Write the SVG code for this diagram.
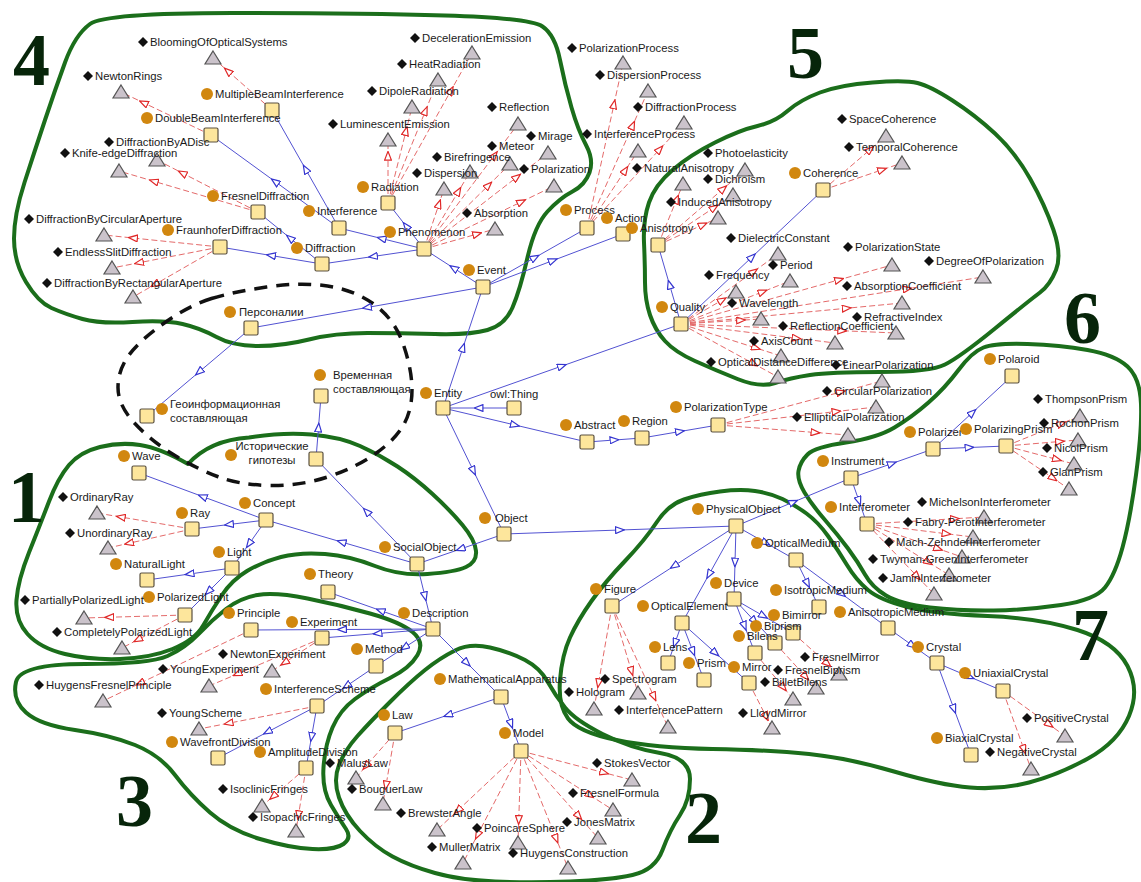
<svg xmlns="http://www.w3.org/2000/svg" xmlns:xlink="http://www.w3.org/1999/xlink" width="1141" height="882" viewBox="0 0 1141 882">
<style>
.blob{fill:none;stroke:#1b6e1b;stroke-width:4;stroke-linejoin:round}
.dash{fill:none;stroke:#111;stroke-width:3.5;stroke-dasharray:13 9}
.b{fill:none;stroke:#5252d2;stroke-width:1;marker-mid:url(#ab)}
.r{fill:none;stroke:#e46a6a;stroke-width:1;stroke-dasharray:6 3;marker-mid:url(#ar)}
.c{fill:#d1870f}
.s{fill:#fde69c;stroke:#5a5040;stroke-width:1.2}
.d{fill:#111}
.t{fill:#cbc3cb;stroke:#555;stroke-width:1.2}
text{font-family:"Liberation Sans",Arial,sans-serif;font-size:11.3px;fill:#1a1a1a}
.num{font-family:"Liberation Serif","Times New Roman",serif;font-weight:bold;font-size:74px;fill:#07250a}
</style>
<defs>
<marker id="ab" viewBox="0 0 10 8" refX="5" refY="4" markerWidth="10" markerHeight="8" markerUnits="userSpaceOnUse" orient="auto"><path d="M0.6,0.6 L9.4,4 L0.6,7.4 Z" fill="#fff" stroke="#3535d0" stroke-width="1.2" stroke-dasharray="none"/></marker>
<marker id="ar" viewBox="0 0 10 8" refX="5" refY="4" markerWidth="10" markerHeight="8" markerUnits="userSpaceOnUse" orient="auto"><path d="M0.6,0.6 L9.4,4 L0.6,7.4 Z" fill="#fff" stroke="#e02828" stroke-width="1.2" stroke-dasharray="none"/></marker>
<circle id="cir" class="c" r="6"/>
<rect id="sq" class="s" x="-7" y="-7" width="14" height="14" rx="1.5"/>
<polygon id="dia" class="d" points="0,-5 5,0 0,5 -5,0"/>
<polygon id="tri" class="t" points="0,-7 8,6 -8,6"/>
</defs>
<rect width="1141" height="882" fill="#fff"/>

<g id="regions">
<path class="blob" d="M51.5,308 Q38,302 26,282 Q14,262 14,238.5 Q14,215 24.5,182.5 Q35,150 45,120 Q55,90 65,62.5 Q75,35 90,24 Q105,13 232.5,13 Q360,13 445,15.5 Q530,18 542.5,26.5 Q555,35 560,60 Q565,85 571.5,107.5 Q578,130 586,145 Q594,160 589.5,172.5 Q585,185 572.5,191.5 Q560,198 547.5,211.5 Q535,225 527.5,257.5 Q520,290 512.5,307.5 Q505,325 487.5,330 Q470,335 435,334 Q400,333 367.5,333 Q335,333 309,339.5 Q283,346 258,346 Q233,346 216.5,337 Q200,328 182.5,324 Q165,320 132.5,322 Q100,324 82.5,319 Q65,314 51.5,308 Z"/>
<path class="blob" d="M645,282.5 Q645,265 644,242.5 Q643,220 649,202.5 Q655,185 672.5,170 Q690,155 715,142.5 Q740,130 757.5,126 Q775,122 787.5,111 Q800,100 820,92.5 Q840,85 872.5,82.5 Q905,80 917.5,83 Q930,86 952.5,100.5 Q975,115 995,133.5 Q1015,152 1030,178.5 Q1045,205 1053.5,230 Q1062,255 1056,270 Q1050,285 1040,292.5 Q1030,300 995,328.5 Q960,357 945,364.5 Q930,372 880,372 Q830,372 810,375 Q790,378 775,383 Q760,388 737.5,379 Q715,370 695,361 Q675,352 665,341 Q655,330 650,315 Q645,300 645,282.5 Z"/>
<path class="blob" d="M798.5,471 Q800,462 807.5,454.5 Q815,447 846,442.5 Q877,438 894.5,427.5 Q912,417 928.5,402.5 Q945,388 958.5,370 Q972,352 983.5,347.5 Q995,343 1027.5,344 Q1060,345 1087.5,350 Q1115,355 1127.5,366.5 Q1140,378 1141,404 Q1142,430 1136,475 Q1130,520 1122.5,547.5 Q1115,575 1105,587.5 Q1095,600 1061,605 Q1027,610 993.5,610.5 Q960,611 930,607.5 Q900,604 886,595.5 Q872,587 865,574.5 Q858,562 848,548.5 Q838,535 825,520 Q812,505 804.5,492.5 Q797,480 798.5,471 Z"/>
<path class="blob" d="M625,561 Q645,540 656.5,522.5 Q668,505 684,499.5 Q700,494 720,491.5 Q740,489 755,491 Q770,493 782.5,499 Q795,505 806.5,513.5 Q818,522 828,536 Q838,550 847,565 Q856,580 868,590 Q880,600 907.5,607 Q935,614 987.5,616 Q1040,618 1077.5,630 Q1115,642 1127.5,666 Q1140,690 1129,716 Q1118,742 1088,758.5 Q1058,775 1029,782.5 Q1000,790 970,787.5 Q940,785 894,771.5 Q848,758 809,754 Q770,750 712.5,749 Q655,748 616.5,740 Q578,732 568,718.5 Q558,705 560,680 Q562,655 570,637.5 Q578,620 591.5,601 Q605,582 625,561 Z"/>
<path class="blob" d="M455,650.5 Q470,643 490,647.5 Q510,652 525,660 Q540,668 547.5,681.5 Q555,695 565,707.5 Q575,720 602.5,734 Q630,748 660,753 Q690,758 690,779 Q690,800 680,815 Q670,830 662.5,850 Q655,870 632.5,875 Q610,880 570,881.5 Q530,883 495,881.5 Q460,880 435,873 Q410,866 392.5,856.5 Q375,847 360,831 Q345,815 339,797.5 Q333,780 339,765 Q345,750 357.5,736 Q370,722 390,702 Q410,682 425,670 Q440,658 455,650.5 Z"/>
<path class="blob" d="M16,682 Q20,664 85,664 Q150,664 167.5,656 Q185,648 198.5,634 Q212,620 226,609 Q240,598 257.5,595 Q275,592 307.5,598.5 Q340,605 370,613.5 Q400,622 412.5,632 Q425,642 417.5,655 Q410,668 390,678 Q370,688 355,699 Q340,710 332.5,727.5 Q325,745 323.5,767.5 Q322,790 331,805 Q340,820 346,829 Q352,838 343.5,844 Q335,850 312.5,849 Q290,848 260,839 Q230,830 210,812.5 Q190,795 175,775 Q160,755 135,745 Q110,735 75,730 Q40,725 26,712.5 Q12,700 16,682 Z"/>
<path class="blob" d="M249,437.5 Q283,432 311.5,434.5 Q340,437 360,446 Q380,455 397.5,466.5 Q415,478 432.5,494 Q450,510 462.5,525 Q475,540 476,551 Q477,562 466,567 Q455,572 427.5,574 Q400,576 375,566 Q350,556 325,554 Q300,552 281,557 Q262,562 247,571 Q232,580 222,595 Q212,610 203.5,625 Q195,640 172.5,649 Q150,658 120,659 Q90,660 65,654 Q40,648 27.5,634 Q15,620 16.5,600 Q18,580 29,552.5 Q40,525 49,501.5 Q58,478 69,465 Q80,452 100,447 Q120,442 140,445 Q160,448 188,464 Q210,440 249,437.5 Z"/>
<path class="dash" d="M211.5,298.5 Q233,292 266.5,287 Q300,282 327.5,286 Q355,290 375,305 Q395,320 403.5,345 Q412,370 412,390 Q412,410 403.5,425 Q395,440 375,454 Q355,468 327.5,477 Q300,486 270,485.5 Q240,485 217.5,476.5 Q195,468 172.5,454 Q150,440 134,422.5 Q118,405 118,387.5 Q118,370 129,355 Q140,340 165,322.5 Q190,305 211.5,298.5 Z"/>
<text class="num" x="13" y="85">4</text>
<text class="num" x="787" y="78">5</text>
<text class="num" x="1064" y="343">6</text>
<text class="num" x="8" y="522">1</text>
<text class="num" x="116" y="826">3</text>
<text class="num" x="685" y="843">2</text>
<text class="num" x="1072" y="660">7</text>
</g>

<g id="connectors">
<path class="b" d="M339,228 L275,181.5 L211,135"/>
<path class="b" d="M339,228 L305.5,169 L272,110"/>
<path class="b" d="M322,264 L290,238 L258,212"/>
<path class="b" d="M322,264 L271,255.5 L220,247"/>
<path class="b" d="M424,249 L373,256.5 L322,264"/>
<path class="b" d="M424,249 L381.5,238.5 L339,228"/>
<path class="b" d="M424,249 L406,226 L388,203"/>
<path class="b" d="M483,287 L453.5,268 L424,249"/>
<path class="b" d="M483,287 L535,257.5 L587,228"/>
<path class="b" d="M483,287 L553,260.5 L623,234"/>
<path class="b" d="M483,287 L367,307.5 L251,328"/>
<path class="b" d="M251,328 L199,372 L147,416"/>
<path class="b" d="M443,408 L463,347.5 L483,287"/>
<path class="b" d="M514,408 L478.5,408 L443,408"/>
<path class="b" d="M443,408 L562,366 L681,324"/>
<path class="b" d="M443,408 L515,425 L587,442"/>
<path class="b" d="M587,442 L614.5,440 L642,438"/>
<path class="b" d="M642,438 L680,431.5 L718,425"/>
<path class="b" d="M443,408 L473.5,471 L504,534"/>
<path class="b" d="M504,534 L460.5,549 L417,564"/>
<path class="b" d="M504,534 L620,530 L736,526"/>
<path class="b" d="M681,324 L752,257 L823,190"/>
<path class="b" d="M681,324 L669.5,284.5 L658,245"/>
<path class="b" d="M417,564 L341.5,542 L266,520"/>
<path class="b" d="M266,520 L202.5,496.5 L139,473"/>
<path class="b" d="M266,520 L229,524.5 L192,529"/>
<path class="b" d="M266,520 L249,544 L232,568"/>
<path class="b" d="M232,568 L189.5,574 L147,580"/>
<path class="b" d="M232,568 L208.5,591.5 L185,615"/>
<path class="b" d="M417,564 L425,596.5 L433,629"/>
<path class="b" d="M417,564 L366.5,511.5 L316,459"/>
<path class="b" d="M316,459 L318.5,427.5 L321,396"/>
<path class="b" d="M433,629 L342,629.5 L251,630"/>
<path class="b" d="M433,629 L377.5,633.5 L322,638"/>
<path class="b" d="M433,629 L404.5,647.5 L376,666"/>
<path class="b" d="M433,629 L380.5,610.5 L328,592"/>
<path class="b" d="M433,629 L467,663 L501,697"/>
<path class="b" d="M376,666 L346.5,686 L317,706"/>
<path class="b" d="M317,706 L267.5,732 L218,758"/>
<path class="b" d="M317,706 L311.5,737 L306,768"/>
<path class="b" d="M501,697 L448,715 L395,733"/>
<path class="b" d="M501,697 L511,724 L521,751"/>
<path class="b" d="M736,526 L674,566 L612,606"/>
<path class="b" d="M736,526 L709,574.5 L682,623"/>
<path class="b" d="M736,526 L735,562.5 L734,599"/>
<path class="b" d="M736,526 L766,543 L796,560"/>
<path class="b" d="M736,526 L793.5,502 L851,478"/>
<path class="b" d="M796,560 L807.5,583.5 L819,607"/>
<path class="b" d="M796,560 L842,594 L888,628"/>
<path class="b" d="M888,628 L912.5,645.5 L937,663"/>
<path class="b" d="M937,663 L970,677 L1003,691"/>
<path class="b" d="M937,663 L954,709 L971,755"/>
<path class="b" d="M682,623 L675,643 L668,663"/>
<path class="b" d="M682,623 L693,651.5 L704,680"/>
<path class="b" d="M682,623 L715.5,653 L749,683"/>
<path class="b" d="M734,599 L763.5,616 L793,633"/>
<path class="b" d="M734,599 L754.5,621 L775,643"/>
<path class="b" d="M734,599 L744.5,626 L755,653"/>
<path class="b" d="M851,478 L892,463.5 L933,449"/>
<path class="b" d="M851,478 L859,501 L867,524"/>
<path class="b" d="M933,449 L972.5,412.5 L1012,376"/>
<path class="b" d="M933,449 L969.5,447.5 L1006,446"/>

<path class="r" d="M272,110 L227.75,71 L213,58"/>
<path class="r" d="M211,135 L143.5,102.75 L121,92"/>
<path class="r" d="M258,212 L182.25,173 L157,160"/>
<path class="r" d="M258,212 L153.75,181.25 L119,171"/>
<path class="r" d="M220,247 L133,238 L104,235"/>
<path class="r" d="M220,247 L139,262.75 L112,268"/>
<path class="r" d="M220,247 L154.75,284.5 L133,297"/>
<path class="r" d="M388,203 L451,90.5 L472,53"/>
<path class="r" d="M388,203 L425.5,110.75 L438,80"/>
<path class="r" d="M388,203 L406,131 L412,107"/>
<path class="r" d="M388,203 L388,155.75 L388,140"/>
<path class="r" d="M424,249 L494.5,155.25 L518,124"/>
<path class="r" d="M424,249 L517,177 L548,153"/>
<path class="r" d="M424,249 L488.5,185.25 L510,164"/>
<path class="r" d="M424,249 L458.5,191.25 L470,172"/>
<path class="r" d="M424,249 L439,204 L444,189"/>
<path class="r" d="M424,249 L521.5,201.75 L554,186"/>
<path class="r" d="M424,249 L477.25,234 L495,229"/>
<path class="r" d="M587,228 L614,104.25 L623,63"/>
<path class="r" d="M587,228 L632.75,125.25 L648,91"/>
<path class="r" d="M587,228 L659.75,149.25 L684,123"/>
<path class="r" d="M587,228 L625.25,170.25 L638,151"/>
<path class="r" d="M658,245 L676.75,199.25 L683,184"/>
<path class="r" d="M658,245 L723.25,188.75 L745,170"/>
<path class="r" d="M658,245 L714.25,207.5 L733,195"/>
<path class="r" d="M658,245 L703,224.75 L718,218"/>
<path class="r" d="M823,190 L870.25,149.5 L886,136"/>
<path class="r" d="M823,190 L882.25,169.75 L902,163"/>
<path class="r" d="M681,324 L753.75,271.5 L778,254"/>
<path class="r" d="M681,324 L722.25,300 L736,292"/>
<path class="r" d="M681,324 L762.75,291.75 L790,281"/>
<path class="r" d="M681,324 L741,320.25 L761,319"/>
<path class="r" d="M681,324 L839.25,279.75 L892,265"/>
<path class="r" d="M681,324 L846.75,308.25 L902,303"/>
<path class="r" d="M681,324 L907.5,288.75 L983,277"/>
<path class="r" d="M681,324 L842.25,330.75 L896,333"/>
<path class="r" d="M681,324 L796.5,338.25 L835,343"/>
<path class="r" d="M681,324 L756,348 L781,356"/>
<path class="r" d="M681,324 L753.75,363.75 L778,377"/>
<path class="r" d="M718,425 L841,392 L882,381"/>
<path class="r" d="M718,425 L836.5,411.5 L876,407"/>
<path class="r" d="M718,425 L815.5,432.5 L848,435"/>
<path class="r" d="M1006,446 L1061.5,423.5 L1080,416"/>
<path class="r" d="M1006,446 L1060,441.5 L1078,440"/>
<path class="r" d="M1006,446 L1057,459.5 L1074,464"/>
<path class="r" d="M1006,446 L1053.25,478.25 L1069,489"/>
<path class="r" d="M867,524 L954.75,518.75 L984,517"/>
<path class="r" d="M867,524 L946.5,533.75 L973,537"/>
<path class="r" d="M867,524 L938.25,548.75 L962,557"/>
<path class="r" d="M867,524 L928.5,562.25 L949,575"/>
<path class="r" d="M867,524 L917.25,576.5 L934,594"/>
<path class="r" d="M192,529 L120.75,517 L97,513"/>
<path class="r" d="M192,529 L129,543.25 L108,548"/>
<path class="r" d="M185,615 L109.25,617.25 L84,618"/>
<path class="r" d="M185,615 L137.75,639.75 L122,648"/>
<path class="r" d="M322,638 L284.5,662.75 L272,671"/>
<path class="r" d="M322,638 L237.25,674 L209,686"/>
<path class="r" d="M251,630 L140,683.25 L103,701"/>
<path class="r" d="M317,706 L228.5,723.25 L199,729"/>
<path class="r" d="M306,768 L273,796.5 L262,806"/>
<path class="r" d="M306,768 L298.5,815.25 L296,831"/>
<path class="r" d="M395,733 L366,766 L356,778"/>
<path class="r" d="M395,733 L386,785.5 L383,803"/>
<path class="r" d="M521,751 L604.25,772.75 L632,780"/>
<path class="r" d="M521,751 L590,795.25 L613,810"/>
<path class="r" d="M521,751 L458,810.25 L437,830"/>
<path class="r" d="M521,751 L578.75,816.25 L598,838"/>
<path class="r" d="M521,751 L518.75,820 L518,843"/>
<path class="r" d="M521,751 L477.5,835 L463,863"/>
<path class="r" d="M521,751 L556.25,838.75 L568,868"/>
<path class="r" d="M612,606 L598.5,683.25 L594,709"/>
<path class="r" d="M612,606 L631.5,671.25 L638,693"/>
<path class="r" d="M612,606 L654,696.75 L668,727"/>
<path class="r" d="M749,683 L766.25,716.75 L772,728"/>
<path class="r" d="M793,633 L827.5,663.75 L839,674"/>
<path class="r" d="M775,643 L805.75,676.75 L816,688"/>
<path class="r" d="M755,653 L783.5,687.5 L793,699"/>
<path class="r" d="M1003,691 L1049.5,724.75 L1065,736"/>
<path class="r" d="M1003,691 L1024,749.5 L1031,769"/>
</g>

<g id="classes">
<g id="n-MultipleBeamInterference"><use href="#cir" x="207" y="94"/><text x="215" y="98">MultipleBeamInterference</text><use href="#sq" x="272" y="110"/></g>
<g id="n-DoubleBeamInterference"><use href="#cir" x="147" y="118"/><text x="155" y="122">DoubleBeamInterference</text><use href="#sq" x="211" y="135"/></g>
<g id="n-FresnelDiffraction"><use href="#cir" x="213" y="196"/><text x="221" y="200">FresnelDiffraction</text><use href="#sq" x="258" y="212"/></g>
<g id="n-Interference"><use href="#cir" x="309" y="211"/><text x="317" y="215">Interference</text><use href="#sq" x="339" y="228"/></g>
<g id="n-FraunhoferDiffraction"><use href="#cir" x="168" y="230"/><text x="176" y="234">FraunhoferDiffraction</text><use href="#sq" x="220" y="247"/></g>
<g id="n-Diffraction"><use href="#cir" x="297" y="248"/><text x="305" y="252">Diffraction</text><use href="#sq" x="322" y="264"/></g>
<g id="n-Radiation"><use href="#cir" x="363" y="187"/><text x="371" y="191">Radiation</text><use href="#sq" x="388" y="203"/></g>
<g id="n-Phenomenon"><use href="#cir" x="390" y="232"/><text x="398" y="236">Phenomenon</text><use href="#sq" x="424" y="249"/></g>
<g id="n-Event"><use href="#cir" x="469" y="270"/><text x="477" y="274">Event</text><use href="#sq" x="483" y="287"/></g>
<g id="n-Process"><use href="#cir" x="566" y="210"/><text x="574" y="214">Process</text><use href="#sq" x="587" y="228"/></g>
<g id="n-Action"><use href="#cir" x="607" y="218"/><text x="615" y="222">Action</text><use href="#sq" x="623" y="234"/></g>
<g id="n-Anisotropy"><use href="#cir" x="632" y="228"/><text x="640" y="232">Anisotropy</text><use href="#sq" x="658" y="245"/></g>
<g id="n-Coherence"><use href="#cir" x="795" y="173"/><text x="803" y="177">Coherence</text><use href="#sq" x="823" y="190"/></g>
<g id="n-Quality"><use href="#cir" x="662" y="307"/><text x="670" y="311">Quality</text><use href="#sq" x="681" y="324"/></g>
<g id="n-Personalii"><use href="#cir" x="230" y="312"/><text x="239" y="316">Персоналии</text><use href="#sq" x="251" y="328"/></g>
<g id="n-Geoinform"><use href="#cir" x="162" y="409"/><text x="170" y="408">Геоинформационная</text><text x="170" y="422">составляющая</text><use href="#sq" x="147" y="416"/></g>
<g id="n-Vremennaya"><use href="#cir" x="320" y="375"/><text x="333" y="379">Временная</text><text x="333" y="393">составляющая</text><use href="#sq" x="321" y="396"/></g>
<g id="n-Istoricheskie"><use href="#cir" x="231" y="455"/><text x="272" y="450" text-anchor="middle">Исторические</text><text x="272" y="464" text-anchor="middle">гипотезы</text><use href="#sq" x="316" y="459"/></g>
<g id="n-Entity"><use href="#cir" x="426" y="393"/><text x="434" y="397">Entity</text><use href="#sq" x="443" y="408"/></g>
<g id="n-owlThing"><text x="490" y="398">owl:Thing</text><use href="#sq" x="514" y="408"/></g>
<g id="n-Abstract"><use href="#cir" x="566" y="425"/><text x="574" y="429">Abstract</text><use href="#sq" x="587" y="442"/></g>
<g id="n-Region"><use href="#cir" x="624" y="421"/><text x="632" y="425">Region</text><use href="#sq" x="642" y="438"/></g>
<g id="n-PolarizationType"><use href="#cir" x="676" y="407"/><text x="684" y="411">PolarizationType</text><use href="#sq" x="718" y="425"/></g>
<g id="n-Object"><use href="#cir" x="485" y="518"/><text x="495" y="522">Object</text><use href="#sq" x="504" y="534"/></g>
<g id="n-SocialObject"><use href="#cir" x="385" y="547"/><text x="393" y="551">SocialObject</text><use href="#sq" x="417" y="564"/></g>
<g id="n-PhysicalObject"><use href="#cir" x="698" y="509"/><text x="706" y="513">PhysicalObject</text><use href="#sq" x="736" y="526"/></g>
<g id="n-Polaroid"><use href="#cir" x="990" y="359"/><text x="998" y="363">Polaroid</text><use href="#sq" x="1012" y="376"/></g>
<g id="n-Polarizer"><use href="#cir" x="910" y="432"/><text x="918" y="436">Polarizer</text><use href="#sq" x="933" y="449"/></g>
<g id="n-PolarizingPrism"><use href="#cir" x="966" y="429"/><text x="974" y="433">PolarizingPrism</text><use href="#sq" x="1006" y="446"/></g>
<g id="n-Instrument"><use href="#cir" x="823" y="461"/><text x="831" y="465">Instrument</text><use href="#sq" x="851" y="478"/></g>
<g id="n-Interferometer"><use href="#cir" x="831" y="507"/><text x="839" y="511">Interferometer</text><use href="#sq" x="867" y="524"/></g>
<g id="n-Wave"><use href="#cir" x="124" y="456"/><text x="132" y="460">Wave</text><use href="#sq" x="139" y="473"/></g>
<g id="n-Concept"><use href="#cir" x="245" y="503"/><text x="253" y="507">Concept</text><use href="#sq" x="266" y="520"/></g>
<g id="n-Ray"><use href="#cir" x="182" y="513"/><text x="190" y="517">Ray</text><use href="#sq" x="192" y="529"/></g>
<g id="n-Light"><use href="#cir" x="219" y="552"/><text x="227" y="556">Light</text><use href="#sq" x="232" y="568"/></g>
<g id="n-NaturalLight"><use href="#cir" x="116" y="564"/><text x="124" y="568">NaturalLight</text><use href="#sq" x="147" y="580"/></g>
<g id="n-PolarizedLight"><use href="#cir" x="149" y="597"/><text x="157" y="601">PolarizedLight</text><use href="#sq" x="185" y="615"/></g>
<g id="n-Theory"><use href="#cir" x="310" y="574"/><text x="318" y="578">Theory</text><use href="#sq" x="328" y="592"/></g>
<g id="n-Principle"><use href="#cir" x="229" y="613"/><text x="237" y="617">Principle</text><use href="#sq" x="251" y="630"/></g>
<g id="n-Experiment"><use href="#cir" x="292" y="622"/><text x="300" y="626">Experiment</text><use href="#sq" x="322" y="638"/></g>
<g id="n-Method"><use href="#cir" x="357" y="649"/><text x="365" y="653">Method</text><use href="#sq" x="376" y="666"/></g>
<g id="n-InterferenceScheme"><use href="#cir" x="266" y="689"/><text x="274" y="693">InterferenceScheme</text><use href="#sq" x="317" y="706"/></g>
<g id="n-WavefrontDivision"><use href="#cir" x="172" y="742"/><text x="180" y="746">WavefrontDivision</text><use href="#sq" x="218" y="758"/></g>
<g id="n-AmplitudeDivision"><use href="#cir" x="260" y="752"/><text x="268" y="756">AmplitudeDivision</text><use href="#sq" x="306" y="768"/></g>
<g id="n-Description"><use href="#cir" x="404" y="613"/><text x="412" y="617">Description</text><use href="#sq" x="433" y="629"/></g>
<g id="n-MathematicalApparatus"><use href="#cir" x="440" y="679"/><text x="448" y="683">MathematicalApparatus</text><use href="#sq" x="501" y="697"/></g>
<g id="n-Law"><use href="#cir" x="384" y="715"/><text x="392" y="719">Law</text><use href="#sq" x="395" y="733"/></g>
<g id="n-Model"><use href="#cir" x="505" y="733"/><text x="513" y="737">Model</text><use href="#sq" x="521" y="751"/></g>
<g id="n-OpticalMedium"><use href="#cir" x="757" y="543"/><text x="765" y="547">OpticalMedium</text><use href="#sq" x="796" y="560"/></g>
<g id="n-Figure"><use href="#cir" x="596" y="589"/><text x="604" y="593">Figure</text><use href="#sq" x="612" y="606"/></g>
<g id="n-Device"><use href="#cir" x="716" y="583"/><text x="724" y="587">Device</text><use href="#sq" x="734" y="599"/></g>
<g id="n-IsotropicMedium"><use href="#cir" x="776" y="590"/><text x="784" y="594">IsotropicMedium</text><use href="#sq" x="819" y="607"/></g>
<g id="n-OpticalElement"><use href="#cir" x="643" y="606"/><text x="651" y="610">OpticalElement</text><use href="#sq" x="682" y="623"/></g>
<g id="n-AnisotropicMedium"><use href="#cir" x="840" y="612"/><text x="848" y="616">AnisotropicMedium</text><use href="#sq" x="888" y="628"/></g>
<g id="n-Bimirror"><use href="#cir" x="774" y="615"/><text x="782" y="619">Bimirror</text><use href="#sq" x="793" y="633"/></g>
<g id="n-Biprism"><use href="#cir" x="756" y="626"/><text x="764" y="630">Biprism</text><use href="#sq" x="775" y="643"/></g>
<g id="n-Bilens"><use href="#cir" x="739" y="636"/><text x="747" y="640">Bilens</text><use href="#sq" x="755" y="653"/></g>
<g id="n-Lens"><use href="#cir" x="655" y="647"/><text x="663" y="651">Lens</text><use href="#sq" x="668" y="663"/></g>
<g id="n-Prism"><use href="#cir" x="689" y="663"/><text x="697" y="667">Prism</text><use href="#sq" x="704" y="680"/></g>
<g id="n-Mirror"><use href="#cir" x="734" y="667"/><text x="742" y="671">Mirror</text><use href="#sq" x="749" y="683"/></g>
<g id="n-Crystal"><use href="#cir" x="918" y="647"/><text x="926" y="651">Crystal</text><use href="#sq" x="937" y="663"/></g>
<g id="n-UniaxialCrystal"><use href="#cir" x="965" y="673"/><text x="973" y="677">UniaxialCrystal</text><use href="#sq" x="1003" y="691"/></g>
<g id="n-BiaxialCrystal"><use href="#cir" x="937" y="738"/><text x="945" y="742">BiaxialCrystal</text><use href="#sq" x="971" y="755"/></g>
</g>

<g id="individuals">
<g id="i-BloomingOfOpticalSystems"><use href="#dia" x="143" y="42"/><text x="150" y="46">BloomingOfOpticalSystems</text><use href="#tri" x="213" y="58"/></g>
<g id="i-NewtonRings"><use href="#dia" x="88" y="76"/><text x="95" y="80">NewtonRings</text><use href="#tri" x="121" y="92"/></g>
<g id="i-DiffractionByADisc"><use href="#dia" x="109" y="142"/><text x="116" y="146">DiffractionByADisc</text><use href="#tri" x="157" y="160"/></g>
<g id="i-Knife-edgeDiffraction"><use href="#dia" x="65" y="153"/><text x="72" y="157">Knife-edgeDiffraction</text><use href="#tri" x="119" y="171"/></g>
<g id="i-DiffractionByCircularAperture"><use href="#dia" x="29" y="219"/><text x="36" y="223">DiffractionByCircularAperture</text><use href="#tri" x="104" y="235"/></g>
<g id="i-EndlessSlitDiffraction"><use href="#dia" x="58" y="252"/><text x="65" y="256">EndlessSlitDiffraction</text><use href="#tri" x="112" y="268"/></g>
<g id="i-DiffractionByRectangularAperture"><use href="#dia" x="47" y="283"/><text x="54" y="287">DiffractionByRectangularAperture</text><use href="#tri" x="133" y="297"/></g>
<g id="i-DecelerationEmission"><use href="#dia" x="415" y="38"/><text x="422" y="42">DecelerationEmission</text><use href="#tri" x="472" y="53"/></g>
<g id="i-HeatRadiation"><use href="#dia" x="402" y="64"/><text x="409" y="68">HeatRadiation</text><use href="#tri" x="438" y="80"/></g>
<g id="i-DipoleRadiation"><use href="#dia" x="372" y="91"/><text x="379" y="95">DipoleRadiation</text><use href="#tri" x="412" y="107"/></g>
<g id="i-LuminescentEmission"><use href="#dia" x="333" y="124"/><text x="340" y="128">LuminescentEmission</text><use href="#tri" x="388" y="140"/></g>
<g id="i-Reflection"><use href="#dia" x="492" y="107"/><text x="499" y="111">Reflection</text><use href="#tri" x="518" y="124"/></g>
<g id="i-Mirage"><use href="#dia" x="531" y="136"/><text x="538" y="140">Mirage</text><use href="#tri" x="548" y="153"/></g>
<g id="i-Meteor"><use href="#dia" x="492" y="146"/><text x="499" y="150">Meteor</text><use href="#tri" x="510" y="164"/></g>
<g id="i-Birefringence"><use href="#dia" x="437" y="157"/><text x="444" y="161">Birefringence</text><use href="#tri" x="470" y="172"/></g>
<g id="i-Dispersion"><use href="#dia" x="417" y="173"/><text x="424" y="177">Dispersion</text><use href="#tri" x="444" y="189"/></g>
<g id="i-Polarization"><use href="#dia" x="524" y="169"/><text x="531" y="173">Polarization</text><use href="#tri" x="554" y="186"/></g>
<g id="i-Absorption"><use href="#dia" x="467" y="213"/><text x="474" y="217">Absorption</text><use href="#tri" x="495" y="229"/></g>
<g id="i-PolarizationProcess"><use href="#dia" x="572" y="48"/><text x="579" y="52">PolarizationProcess</text><use href="#tri" x="623" y="63"/></g>
<g id="i-DispersionProcess"><use href="#dia" x="600" y="75"/><text x="607" y="79">DispersionProcess</text><use href="#tri" x="648" y="91"/></g>
<g id="i-DiffractionProcess"><use href="#dia" x="638" y="107"/><text x="645" y="111">DiffractionProcess</text><use href="#tri" x="684" y="123"/></g>
<g id="i-InterferenceProcess"><use href="#dia" x="587" y="134"/><text x="594" y="138">InterferenceProcess</text><use href="#tri" x="638" y="151"/></g>
<g id="i-NaturalAnisotropy"><use href="#dia" x="637" y="168"/><text x="644" y="172">NaturalAnisotropy</text><use href="#tri" x="683" y="184"/></g>
<g id="i-Photoelasticity"><use href="#dia" x="708" y="153"/><text x="715" y="157">Photoelasticity</text><use href="#tri" x="745" y="170"/></g>
<g id="i-Dichroism"><use href="#dia" x="708" y="179"/><text x="715" y="183">Dichroism</text><use href="#tri" x="733" y="195"/></g>
<g id="i-InducedAnisotropy"><use href="#dia" x="671" y="202"/><text x="678" y="206">InducedAnisotropy</text><use href="#tri" x="718" y="218"/></g>
<g id="i-SpaceCoherence"><use href="#dia" x="842" y="119"/><text x="849" y="123">SpaceCoherence</text><use href="#tri" x="886" y="136"/></g>
<g id="i-TemporalCoherence"><use href="#dia" x="849" y="147"/><text x="856" y="151">TemporalCoherence</text><use href="#tri" x="902" y="163"/></g>
<g id="i-DielectricConstant"><use href="#dia" x="731" y="238"/><text x="738" y="242">DielectricConstant</text><use href="#tri" x="778" y="254"/></g>
<g id="i-Frequency"><use href="#dia" x="709" y="275"/><text x="716" y="279">Frequency</text><use href="#tri" x="736" y="292"/></g>
<g id="i-Period"><use href="#dia" x="773" y="265"/><text x="780" y="269">Period</text><use href="#tri" x="790" y="281"/></g>
<g id="i-Wavelength"><use href="#dia" x="732" y="303"/><text x="739" y="307">Wavelength</text><use href="#tri" x="761" y="319"/></g>
<g id="i-PolarizationState"><use href="#dia" x="848" y="247"/><text x="855" y="251">PolarizationState</text><use href="#tri" x="892" y="265"/></g>
<g id="i-AbsorptionCoefficient"><use href="#dia" x="847" y="286"/><text x="854" y="290">AbsorptionCoefficient</text><use href="#tri" x="902" y="303"/></g>
<g id="i-DegreeOfPolarization"><use href="#dia" x="929" y="261"/><text x="936" y="265">DegreeOfPolarization</text><use href="#tri" x="983" y="277"/></g>
<g id="i-RefractiveIndex"><use href="#dia" x="857" y="317"/><text x="864" y="321">RefractiveIndex</text><use href="#tri" x="896" y="333"/></g>
<g id="i-ReflectionCoefficient"><use href="#dia" x="783" y="326"/><text x="790" y="330">ReflectionCoefficient</text><use href="#tri" x="835" y="343"/></g>
<g id="i-AxisCount"><use href="#dia" x="754" y="341"/><text x="761" y="345">AxisCount</text><use href="#tri" x="781" y="356"/></g>
<g id="i-OpticalDistanceDifference"><use href="#dia" x="711" y="362"/><text x="718" y="366">OpticalDistanceDifference</text><use href="#tri" x="778" y="377"/></g>
<g id="i-LinearPolarization"><use href="#dia" x="836" y="365"/><text x="843" y="369">LinearPolarization</text><use href="#tri" x="882" y="381"/></g>
<g id="i-CircularPolarization"><use href="#dia" x="827" y="391"/><text x="834" y="395">CircularPolarization</text><use href="#tri" x="876" y="407"/></g>
<g id="i-EllipticalPolarization"><use href="#dia" x="797" y="417"/><text x="804" y="421">EllipticalPolarization</text><use href="#tri" x="848" y="435"/></g>
<g id="i-ThompsonPrism"><use href="#dia" x="1038" y="399"/><text x="1045" y="403">ThompsonPrism</text><use href="#tri" x="1080" y="416"/></g>
<g id="i-RochonPrism"><use href="#dia" x="1044" y="423"/><text x="1051" y="427">RochonPrism</text><use href="#tri" x="1078" y="440"/></g>
<g id="i-NicolPrism"><use href="#dia" x="1047" y="448"/><text x="1054" y="452">NicolPrism</text><use href="#tri" x="1074" y="464"/></g>
<g id="i-GlanPrism"><use href="#dia" x="1043" y="472"/><text x="1050" y="476">GlanPrism</text><use href="#tri" x="1069" y="489"/></g>
<g id="i-MichelsonInterferometer"><use href="#dia" x="922" y="502"/><text x="929" y="506">MichelsonInterferometer</text><use href="#tri" x="984" y="517"/></g>
<g id="i-Fabry-PerotInterferometer"><use href="#dia" x="908" y="522"/><text x="915" y="526">Fabry-PerotInterferometer</text><use href="#tri" x="973" y="537"/></g>
<g id="i-Mach-ZehnderInterferometer"><use href="#dia" x="889" y="542"/><text x="896" y="546">Mach-ZehnderInterferometer</text><use href="#tri" x="962" y="557"/></g>
<g id="i-Twyman-GreenInterferometer"><use href="#dia" x="873" y="559"/><text x="880" y="563">Twyman-GreenInterferometer</text><use href="#tri" x="949" y="575"/></g>
<g id="i-JaminInterferometer"><use href="#dia" x="883" y="578"/><text x="890" y="582">JaminInterferometer</text><use href="#tri" x="934" y="594"/></g>
<g id="i-OrdinaryRay"><use href="#dia" x="63" y="497"/><text x="70" y="501">OrdinaryRay</text><use href="#tri" x="97" y="513"/></g>
<g id="i-UnordinaryRay"><use href="#dia" x="70" y="533"/><text x="77" y="537">UnordinaryRay</text><use href="#tri" x="108" y="548"/></g>
<g id="i-PartiallyPolarizedLight"><use href="#dia" x="25" y="600"/><text x="32" y="604">PartiallyPolarizedLight</text><use href="#tri" x="84" y="618"/></g>
<g id="i-CompletelyPolarizedLight"><use href="#dia" x="57" y="632"/><text x="64" y="636">CompletelyPolarizedLight</text><use href="#tri" x="122" y="648"/></g>
<g id="i-NewtonExperiment"><use href="#dia" x="223" y="654"/><text x="230" y="658">NewtonExperiment</text><use href="#tri" x="272" y="671"/></g>
<g id="i-YoungExperiment"><use href="#dia" x="163" y="669"/><text x="170" y="673">YoungExperiment</text><use href="#tri" x="209" y="686"/></g>
<g id="i-HuygensFresnelPrinciple"><use href="#dia" x="39" y="685"/><text x="46" y="689">HuygensFresnelPrinciple</text><use href="#tri" x="103" y="701"/></g>
<g id="i-YoungScheme"><use href="#dia" x="162" y="713"/><text x="169" y="717">YoungScheme</text><use href="#tri" x="199" y="729"/></g>
<g id="i-IsoclinicFringes"><use href="#dia" x="223" y="789"/><text x="230" y="793">IsoclinicFringes</text><use href="#tri" x="262" y="806"/></g>
<g id="i-IsopachicFringes"><use href="#dia" x="253" y="817"/><text x="260" y="821">IsopachicFringes</text><use href="#tri" x="296" y="831"/></g>
<g id="i-MalusLaw"><use href="#dia" x="330" y="763"/><text x="337" y="767">MalusLaw</text><use href="#tri" x="356" y="778"/></g>
<g id="i-BouguerLaw"><use href="#dia" x="352" y="789"/><text x="359" y="793">BouguerLaw</text><use href="#tri" x="383" y="804"/></g>
<g id="i-StokesVector"><use href="#dia" x="597" y="763"/><text x="604" y="767">StokesVector</text><use href="#tri" x="632" y="780"/></g>
<g id="i-FresnelFormula"><use href="#dia" x="573" y="793"/><text x="580" y="797">FresnelFormula</text><use href="#tri" x="613" y="810"/></g>
<g id="i-BrewsterAngle"><use href="#dia" x="401" y="813"/><text x="408" y="817">BrewsterAngle</text><use href="#tri" x="437" y="830"/></g>
<g id="i-JonesMatrix"><use href="#dia" x="567" y="822"/><text x="574" y="826">JonesMatrix</text><use href="#tri" x="598" y="838"/></g>
<g id="i-PoincareSphere"><use href="#dia" x="477" y="828"/><text x="484" y="832">PoincareSphere</text><use href="#tri" x="518" y="843"/></g>
<g id="i-MullerMatrix"><use href="#dia" x="432" y="847"/><text x="439" y="851">MullerMatrix</text><use href="#tri" x="463" y="863"/></g>
<g id="i-HuygensConstruction"><use href="#dia" x="513" y="853"/><text x="520" y="857">HuygensConstruction</text><use href="#tri" x="568" y="868"/></g>
<g id="i-Hologram"><use href="#dia" x="569" y="692"/><text x="576" y="696">Hologram</text><use href="#tri" x="594" y="709"/></g>
<g id="i-Spectrogram"><use href="#dia" x="605" y="679"/><text x="612" y="683">Spectrogram</text><use href="#tri" x="638" y="693"/></g>
<g id="i-InterferencePattern"><use href="#dia" x="619" y="710"/><text x="626" y="714">InterferencePattern</text><use href="#tri" x="668" y="727"/></g>
<g id="i-FresnelMirror"><use href="#dia" x="805" y="657"/><text x="812" y="661">FresnelMirror</text><use href="#tri" x="839" y="674"/></g>
<g id="i-FresnelBiprism"><use href="#dia" x="778" y="670"/><text x="785" y="674">FresnelBiprism</text><use href="#tri" x="816" y="688"/></g>
<g id="i-BilletBilens"><use href="#dia" x="765" y="682"/><text x="772" y="686">BilletBilens</text><use href="#tri" x="793" y="699"/></g>
<g id="i-LloydMirror"><use href="#dia" x="743" y="713"/><text x="750" y="717">LloydMirror</text><use href="#tri" x="772" y="728"/></g>
<g id="i-PositiveCrystal"><use href="#dia" x="1027" y="718"/><text x="1034" y="722">PositiveCrystal</text><use href="#tri" x="1065" y="736"/></g>
<g id="i-NegativeCrystal"><use href="#dia" x="990" y="752"/><text x="997" y="756">NegativeCrystal</text><use href="#tri" x="1031" y="769"/></g>
</g>
</svg>
